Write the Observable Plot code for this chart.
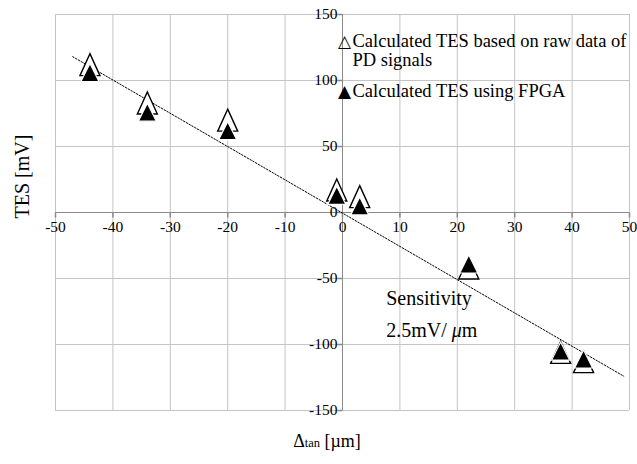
<!DOCTYPE html>
<html><head><meta charset="utf-8">
<script src="https://cdn.jsdelivr.net/npm/d3@7"></script>
<script src="https://cdn.jsdelivr.net/npm/@observablehq/plot@0.6"></script>
<style>body{margin:0;background:#fff}</style>
</head><body><div id="chart"></div>
<script>
// ---- data ----
const displacement = [-44, -34, -20, -1, 3, 22, 38, 42];   // Δtan [µm]
const tesRaw  = [112, 83, 70, 17, 12, -42, -106, -113];     // raw PD signals [mV]
const tesFpga = [106, 76, 62, 13, 5, -39, -105, -111];      // FPGA [mV]
const trendX = [-47, 49];
const trendY = [118, -124];
const xTicks = [-50, -40, -30, -20, -10, 0, 10, 20, 30, 40, 50];
const yTicks = [-150, -100, -50, 0, 50, 100, 150];
const legendGlyphs = ["△", "▲"];
const legendRaw = "Calculated TES based on raw data of";
const legendRaw2 = "PD signals";
const legendFpga = "Calculated TES using FPGA";

const points = displacement.map((d, i) => ({d, raw: tesRaw[i], fpga: tesFpga[i]}));
const trend = trendX.map((x, i) => ({x, y: trendY[i]}));

const tri = (w, h) => ({draw(c) { c.moveTo(0, -h / 2); c.lineTo(w / 2, h / 2); c.lineTo(-w / 2, h / 2); c.closePath(); }});
const tickDown = {draw(c) { c.moveTo(0, 0); c.lineTo(0, 5); }};
const tickLeft = {draw(c) { c.moveTo(0, 0); c.lineTo(-5, 0); }};

const serif = "'Liberation Serif', 'Times New Roman', serif";
const chart = Plot.plot({
  width: 637, height: 464,
  marginLeft: 55, marginRight: 8, marginTop: 14, marginBottom: 54,
  x: {domain: [-50, 50], axis: null},
  y: {domain: [-150, 150], axis: null},
  style: {fontFamily: serif, background: "white", color: "black"},
  marks: [
    Plot.gridX(xTicks, {stroke: "#c4c4c4", strokeOpacity: 1, strokeWidth: 1}),
    Plot.gridY(yTicks, {stroke: "#c4c4c4", strokeOpacity: 1, strokeWidth: 1}),
    Plot.ruleX([0], {stroke: "#8a8a8a", strokeWidth: 1}),
    Plot.ruleY([0], {stroke: "#8a8a8a", strokeWidth: 1}),
    Plot.dot(xTicks, {x: d => d, y: 0, symbol: tickDown, stroke: "#8a8a8a", fill: "none"}),
    Plot.dot(yTicks, {x: 0, y: d => d, symbol: tickLeft, stroke: "#8a8a8a", fill: "none"}),
    Plot.text(xTicks, {x: d => d, y: 0, text: d => String(d), dy: 15, fontSize: 15.5, fill: "black"}),
    Plot.text(yTicks, {x: 0, y: d => d, text: d => String(d), dx: -5, textAnchor: "end", fontSize: 15.5, fill: "black"}),
    Plot.line(trend, {x: "x", y: "y", stroke: "black", strokeWidth: 1, strokeDasharray: "1.6 1.6"}),
    Plot.dot(points, {x: "d", y: "raw", symbol: tri(20, 22), fill: "white", stroke: "black", strokeWidth: 1.4}),
    Plot.dot(points, {x: "d", y: "fpga", symbol: tri(18, 18), fill: "black", stroke: "white", strokeWidth: 1.2}),
    Plot.text([legendGlyphs[0]], {frameAnchor: "top-left", dx: 289, dy: 20, textAnchor: "middle", fontSize: 17, fill: "black", fontFamily: "'DejaVu Sans'"}),
    Plot.text([legendGlyphs[1]], {frameAnchor: "top-left", dx: 289, dy: 70, textAnchor: "middle", fontSize: 17, fill: "black", fontFamily: "'DejaVu Sans'"}),
    Plot.text([legendRaw], {frameAnchor: "top-left", dx: 297, dy: 19, textAnchor: "start", fontSize: 18.5, fill: "black"}),
    Plot.text([legendRaw2], {frameAnchor: "top-left", dx: 297, dy: 38, textAnchor: "start", fontSize: 18.5, fill: "black"}),
    Plot.text([legendFpga], {frameAnchor: "top-left", dx: 297, dy: 69, textAnchor: "start", fontSize: 18.5, fill: "black"}),
    Plot.text(["TES [mV]"], {frameAnchor: "left", dx: -33, dy: 6, rotate: -90, fontSize: 20, fill: "black"})
  ]
});
document.getElementById("chart").appendChild(chart);

// x-axis title with smaller "tan"
const svg = d3.select(chart);
const xt = svg.append("text").attr("x", 327).attr("y", 447).attr("text-anchor", "middle")
  .attr("font-family", serif).attr("font-size", 18).attr("fill", "black");
xt.append("tspan").text("Δ");
xt.append("tspan").attr("font-size", 12.5).text("tan");
xt.append("tspan").text(" [µm]");

// sensitivity annotation placed via the plot's scales
const sx = chart.scale("x"), sy = chart.scale("y");
const ann = svg.append("g").attr("font-family", serif).attr("font-size", 20)
  .attr("fill", "black").attr("text-anchor", "start");
ann.append("text").attr("x", sx.apply(7.7)).attr("y", sy.apply(-70.5)).text("Sensitivity");
const l2 = ann.append("text").attr("x", sx.apply(7.7)).attr("y", sy.apply(-94.5));
l2.append("tspan").text("2.5mV/ ");
l2.append("tspan").attr("font-style", "italic").text("μ");
l2.append("tspan").text("m");
</script></body></html>
